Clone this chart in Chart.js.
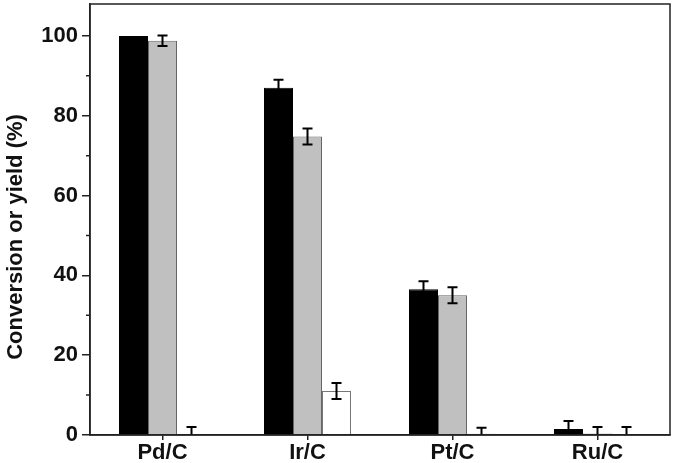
<!DOCTYPE html>
<html>
<head>
<meta charset="utf-8">
<script src="https://cdn.jsdelivr.net/npm/chart.js@4.4.0/dist/chart.umd.min.js"></script>
<style>
  html, body { margin: 0; padding: 0; background: #fff; }
  #wrap { width: 675px; height: 463px; }
</style>
</head>
<body>
<div id="wrap"><canvas id="myBarChart"></canvas></div>
<script>
var catalysts = ["Pd/C", "Ir/C", "Pt/C", "Ru/C"];

var blackValues = [100, 87, 36.5, 1.5];
var grayValues = [98.8, 74.8, 35, 0.4];
var whiteValues = [0, 11, 0.3, 0];

var blackErrors = [0, 2, 2, 2];
var grayErrors = [1.3, 2, 2, 1.6];
var whiteErrors = [2, 2, 1.5, 2];

var yTicks = [0, 20, 40, 60, 80, 100];
var yMinorTicks = [10, 30, 50, 70, 90];

var axisFont = { family: "'Liberation Sans', Arial, sans-serif", size: 22, weight: 'bold' };

// error bars, frame, minor ticks and y title
var extras = {
    id: 'extras',
    afterDatasetsDraw: function (chart) {
        var ctx = chart.ctx;
        var y = chart.scales.y;
        ctx.save();
        ctx.strokeStyle = '#000';
        ctx.lineWidth = 2;
        chart.data.datasets.forEach(function (ds, i) {
            var meta = chart.getDatasetMeta(i);
            meta.data.forEach(function (bar, j) {
                var err = ds.errors[j];
                if (!err) return;
                var v = ds.data[j];
                var top = y.getPixelForValue(v + err);
                var bot = y.getPixelForValue(Math.max(v - err, 0));
                ctx.beginPath();
                ctx.moveTo(bar.x, top);
                ctx.lineTo(bar.x, bot);
                ctx.moveTo(bar.x - 5, top);
                ctx.lineTo(bar.x + 5, top);
                if (v - err > 0) {
                    ctx.moveTo(bar.x - 5, bot);
                    ctx.lineTo(bar.x + 5, bot);
                }
                ctx.stroke();
            });
        });
        ctx.restore();
    },
    afterDraw: function (chart) {
        var ctx = chart.ctx;
        var a = chart.chartArea;
        var y = chart.scales.y;
        ctx.save();
        ctx.strokeStyle = '#222';
        ctx.lineWidth = 1.5;
        ctx.strokeRect(a.left, a.top, a.right - a.left, a.bottom - a.top);
        ctx.beginPath();
        yMinorTicks.forEach(function (t) {
            var py = y.getPixelForValue(t);
            ctx.moveTo(a.left - 4, py);
            ctx.lineTo(a.left, py);
        });
        ctx.stroke();
        ctx.fillStyle = '#111';
        ctx.font = 'bold 22px "Liberation Sans", Arial, sans-serif';
        ctx.textAlign = 'center';
        ctx.textBaseline = 'middle';
        ctx.translate(16, 237);
        ctx.rotate(-Math.PI / 2);
        ctx.fillText('Conversion or yield (%)', 0, 0);
        ctx.restore();
    }
};

var ctx = document.getElementById('myBarChart').getContext('2d');
var chart = new Chart(ctx, {
    type: 'bar',
    data: {
        labels: catalysts,
        datasets: [{
            data: blackValues,
            errors: blackErrors,
            backgroundColor: '#000',
            borderColor: '#000',
            borderWidth: 1
        }, {
            data: grayValues,
            errors: grayErrors,
            backgroundColor: '#c0c0c0',
            borderColor: '#666',
            borderWidth: 1
        }, {
            data: whiteValues,
            errors: whiteErrors,
            backgroundColor: '#fff',
            borderColor: '#777',
            borderWidth: 1
        }]
    },
    options: {
        responsive: true,
        maintainAspectRatio: false,
        animation: false,
        categoryPercentage: 0.6,
        barPercentage: 1,
        layout: { padding: { top: 4, right: 5, left: 0, bottom: 0 } },
        plugins: { legend: { display: false }, tooltip: { enabled: false } },
        scales: {
            x: {
                offset: true,
                grid: { offset: false, drawOnChartArea: false, drawTicks: true, tickLength: 5, color: '#222', lineWidth: 1.5 },
                border: { color: '#222', width: 1.5 },
                ticks: { color: '#111', font: axisFont, padding: 0 },
                afterFit: function (s) { s.height = 28; s.paddingLeft = 0; s.paddingRight = 0; }
            },
            y: {
                min: 0,
                max: 108,
                grid: { drawOnChartArea: false, drawTicks: true, tickLength: 8, color: '#222', lineWidth: 1.5 },
                border: { color: '#222', width: 1.5 },
                ticks: {
                    stepSize: 20,
                    includeBounds: false,
                    color: '#111',
                    font: axisFont,
                    padding: 4,
                    callback: function (v) { return yTicks.indexOf(v) >= 0 ? v : ''; }
                },
                afterFit: function (s) { s.width = 90; s.paddingTop = 0; s.paddingBottom = 0; }
            }
        }
    },
    plugins: [extras]
});
</script>
</body>
</html>
